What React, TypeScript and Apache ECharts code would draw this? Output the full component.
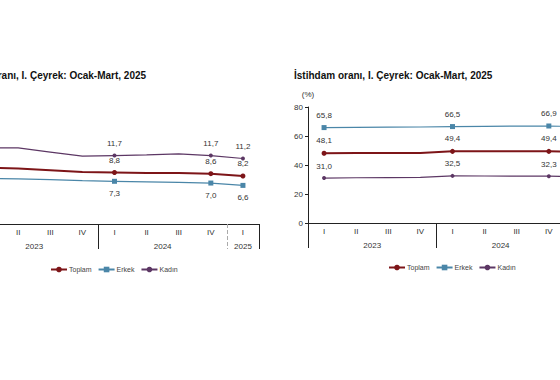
import React, { useEffect, useRef } from "react";
import * as echarts from "echarts";

const quarters = ["I", "II", "III", "IV", "I", "II", "III", "IV", "I"];
const years = ["2023", "2024", "2025"];
const quartersPerYear = [4, 4, 1];
const seriesNames = ["Toplam", "Erkek", "Kadın"];

const unempToplam = [9.6, 9.5, 9.2, 8.9, 8.8, 8.7, 8.7, 8.6, 8.2];
const unempErkek = [7.8, 7.7, 7.6, 7.4, 7.3, 7.2, 7.1, 7.0, 6.6];
const unempKadin = [13.0, 13.0, 12.3, 11.6, 11.7, 11.8, 12.0, 11.7, 11.2];

const empToplam = [48.1, 48.2, 48.3, 48.3, 49.4, 49.5, 49.4, 49.4, 49.0];
const empErkek = [65.8, 66.0, 66.1, 66.2, 66.5, 66.7, 66.8, 66.9, 66.4];
const empKadin = [31.0, 31.2, 31.3, 31.4, 32.5, 32.4, 32.3, 32.3, 31.9];

const labelledIdx = [0, 4, 7, 8];

const FONT = "Liberation Sans";
const colors = ["#7d1518", "#4a86a8", "#5c3764"];
const symbols = ["circle", "rect", "circle"];
const symbolSizes = [5, 5, 4];
const lineWidths = [2, 1.2, 1.2];

function buildYearAxisData(): string[] {
  const total = quartersPerYear.reduce((a, b) => a + b, 0);
  const arr: string[] = new Array(total * 2 + 1).fill("");
  let start = 0;
  years.forEach((y, i) => {
    arr[2 * start + quartersPerYear[i]] = y;
    start += quartersPerYear[i];
  });
  return arr;
}

function boundaries(): number[] {
  const b = [0];
  let s = 0;
  quartersPerYear.forEach((c) => {
    s += c;
    b.push(2 * s);
  });
  return b;
}

const fmt = (v: number) => v.toFixed(1).replace(".", ",");

export default function App() {
  const ref = useRef<HTMLDivElement>(null);
  useEffect(() => {
    if (!ref.current) return;
    const chart = echarts.init(ref.current, null, { renderer: "svg" });
    const yearData = buildYearAxisData();
    const bnds = boundaries();
    const lastInner = bnds[bnds.length - 2];
    const solidB = bnds.filter((b) => b !== lastInner);

    const makeSeries = (
      vals: number[][],
      gridIdx: number,
      belowIdx: number[]
    ) =>
      vals.map((arr, s) => ({
        name: seriesNames[s],
        type: "line",
        xAxisIndex: gridIdx * 3,
        yAxisIndex: gridIdx,
        symbol: symbols[s],
        symbolSize: symbolSizes[s],
        showAllSymbol: true,
        lineStyle: { color: colors[s], width: lineWidths[s] },
        itemStyle: { color: colors[s] },
        data: arr.map((v, i) => {
          const lab = labelledIdx.includes(i);
          return {
            value: v,
            symbol: lab ? symbols[s] : "none",
            label: {
              show: lab,
              position: belowIdx.includes(s) ? "bottom" : "top",
              distance: 6,
              formatter: (p: any) => fmt(p.value),
              fontSize: 8,
              fontFamily: FONT,
              color: "#333",
            },
          };
        }),
      }));

    const xAxesFor = (gridIndex: number) => [
      {
        type: "category",
        gridIndex,
        data: quarters,
        position: "bottom",
        boundaryGap: true,
        axisLine: { show: true, lineStyle: { color: "#222", width: 1 } },
        axisTick: { show: false },
        axisLabel: { fontSize: 8, fontFamily: FONT, color: "#333", margin: 4, interval: 0 },
      },
      {
        type: "category",
        gridIndex,
        data: yearData,
        position: "bottom",
        boundaryGap: false,
        axisLine: { show: false },
        axisTick: {
          show: true,
          length: 25,
          interval: (i: number) => solidB.includes(i),
          lineStyle: { color: "#222", width: 1 },
        },
        axisLabel: {
          fontSize: 8,
          fontFamily: FONT,
          color: "#333",
          margin: 18,
          interval: (i: number, v: string) => v !== "",
        },
      },
      {
        type: "category",
        gridIndex,
        data: yearData,
        position: "bottom",
        boundaryGap: false,
        axisLine: { show: false },
        axisTick: {
          show: true,
          length: 25,
          interval: (i: number) => i === lastInner,
          lineStyle: { color: "#aaa", width: 1, type: "dashed" },
        },
        axisLabel: { show: false },
      },
    ];

    const option: any = {
      animation: false,
      title: [
        {
          text: "İşsizlik oranı, I. Çeyrek: Ocak-Mart, 2025",
          left: -49,
          top: 65,
          textStyle: { fontSize: 10, fontWeight: "bold", fontFamily: FONT, color: "#111" },
        },
        {
          text: "İstihdam oranı, I. Çeyrek: Ocak-Mart, 2025",
          left: 289,
          top: 65,
          textStyle: { fontSize: 10, fontWeight: "bold", fontFamily: FONT, color: "#111" },
        },
      ],
      legend: [
        {
          data: seriesNames,
          left: 45,
          top: 261,
          itemWidth: 16,
          itemHeight: 7,
          itemGap: 6,
          textStyle: { fontSize: 7, fontFamily: FONT, color: "#444", padding: [0, 0, 0, -3] },
        },
        {
          data: seriesNames,
          left: 383,
          top: 259,
          itemWidth: 16,
          itemHeight: 7,
          itemGap: 6,
          textStyle: { fontSize: 7, fontFamily: FONT, color: "#444", padding: [0, 0, 0, -3] },
        },
      ],
      grid: [
        { left: -30, top: 107, width: 289, height: 117, outerBoundsMode: "none", containLabel: false },
        { left: 308, top: 107, width: 289, height: 116, outerBoundsMode: "none", containLabel: false },
      ],
      xAxis: [...xAxesFor(0), ...xAxesFor(1)],
      yAxis: [
        {
          type: "value",
          gridIndex: 0,
          min: 0,
          max: 20,
          interval: 5,
          axisLine: { show: true, lineStyle: { color: "#222" } },
          axisTick: { show: true, length: 3 },
          splitLine: { show: false },
          axisLabel: { show: false },
        },
        {
          type: "value",
          gridIndex: 1,
          min: 0,
          max: 80,
          interval: 20,
          name: "(%)",
          nameLocation: "end",
          nameGap: 9,
          nameTextStyle: { fontSize: 8, fontFamily: FONT, color: "#333" },
          axisLine: { show: true, lineStyle: { color: "#222" } },
          axisTick: { show: true, length: 3, lineStyle: { color: "#222" } },
          splitLine: { show: false },
          axisLabel: { fontSize: 8, fontFamily: FONT, color: "#333", margin: 5 },
        },
      ],
      series: [
        ...makeSeries([unempToplam, unempErkek, unempKadin], 0, [1]),
        ...makeSeries([empToplam, empErkek, empKadin], 1, []),
      ],
    };
    chart.setOption(option);
    return () => chart.dispose();
  }, []);
  return (
    <div
      ref={ref}
      style={{ position: "fixed", left: 0, top: 0, width: 560, height: 380, background: "#fff" }}
    />
  );
}
